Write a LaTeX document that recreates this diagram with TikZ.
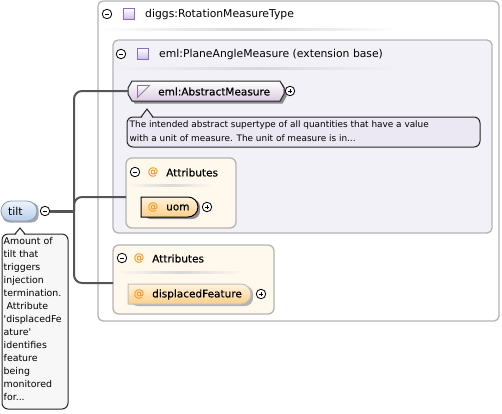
\documentclass[tikz,border=0pt]{standalone}
\usepackage{fontspec}
\setmainfont{DejaVu Sans}[Ligatures=TeXOff]
\newfontfamily\bfont[FakeBold=0.4,Ligatures=TeXOff]{DejaVu Sans}
\usetikzlibrary{shapes.misc}
\definecolor{conn}{HTML}{555555}
\definecolor{boxgray}{HTML}{B4B4B4}
\definecolor{lav}{HTML}{F3F1F8}
\definecolor{cream}{HTML}{FFF8ED}
\definecolor{atorange}{HTML}{F29B2A}
\definecolor{iconpurple}{HTML}{8A6BBE}
\definecolor{iconfill}{HTML}{C9BBE6}
\definecolor{absbot}{HTML}{DCCBE3}
\definecolor{desclav}{HTML}{ECE8F3}
\definecolor{uomtop}{HTML}{FFF3DC}
\definecolor{uombot}{HTML}{FCD08A}
\definecolor{tilttop}{HTML}{EEF4FC}
\definecolor{tiltbot}{HTML}{B7CDEC}
\definecolor{tiltborder}{HTML}{8A9CB8}
\definecolor{sepgray}{HTML}{D8D8D8}
\tikzset{
  T/.style={font=\fontsize{10.8}{12}\selectfont, inner sep=0, anchor=west},
  B/.style={font=\bfont\fontsize{10.5}{12}\selectfont, inner sep=0, anchor=west},
  D/.style={font=\fontsize{9.4}{13}\selectfont, inner sep=0, anchor=west},
  AT/.style={font=\bfont\fontsize{10.5}{12}\selectfont, inner sep=0, text=atorange},
  minusbtn/.style={circle, draw=black, line width=0.8pt, fill=white, minimum size=9.5pt, inner sep=0,
    path picture={\draw[line width=0.9pt] ([xshift=-2.4pt]path picture bounding box.center) -- ([xshift=2.4pt]path picture bounding box.center);}},
  plusbtn/.style={circle, draw=black, line width=0.8pt, fill=white, minimum size=9.5pt, inner sep=0,
    path picture={\draw[line width=0.9pt] ([xshift=-2.4pt]path picture bounding box.center) -- ([xshift=2.4pt]path picture bounding box.center)
      ([yshift=-2.4pt]path picture bounding box.center) -- ([yshift=2.4pt]path picture bounding box.center);}},
  typeicon/.style={rectangle, draw=iconpurple, line width=0.9pt, top color=white, bottom color=iconfill, minimum size=11pt, inner sep=0},
  container/.style={draw=boxgray, line width=1.3pt, rounded corners=5pt},
  attrbox/.style={draw=boxgray, line width=1.3pt, fill=cream, rounded corners=6pt},
  conn/.style={draw=conn, line width=2pt, rounded corners=8pt},
  attrnode/.style={rounded rectangle, rounded rectangle left arc=none, top color=uomtop, bottom color=uombot, inner sep=0, minimum height=20pt},
  shadowc/.style={fill=black!45},
}
\begin{document}
\begin{tikzpicture}[x=1pt,y=-1pt]
\useasboundingbox (0,0) rectangle (502,413);

% outer container
\draw[container, fill=white] (98,1) rectangle (499,321);
\node[minusbtn] (m0) at (107,14) {};
\node[typeicon] (i0) at (129,14) {};
\node[T] (h0) at (145,14.5) {diggs:RotationMeasureType};
\shade[left color=white, right color=white, middle color=sepgray] (100,28) rectangle (400,30);

% inner container
\draw[container, fill=lav] (113,40) rectangle (492,233);
\node[minusbtn] (m1) at (121,54) {};
\node[typeicon] (i1) at (143,54) {};
\node[T] (h1) at (159,54.5) {eml:PlaneAngleMeasure (extension base)};
\shade[left color=lav, right color=lav, middle color=sepgray] (115,67.5) rectangle (400,69.5);

% abstract measure element
\fill[shadowc] (130.5,90.5) -- (134.5,83.5) -- (282.5,83.5) -- (286.5,90.5) -- (286.5,96.5) -- (282.5,103.5) -- (134.5,103.5) -- (130.5,96.5) -- cycle;
\draw[line width=1pt, draw=black!85, top color=white, bottom color=absbot] (128,88) -- (132,81) -- (280,81) -- (284,88) -- (284,94) -- (280,101) -- (132,101) -- (128,94) -- cycle;
\node[minimum width=156pt, minimum height=20pt, inner sep=0] (abs) at (206,91) {};
\fill[top color=white, bottom color=iconfill] (137,85) -- (150,85) -- (137,98) -- cycle;
\draw[iconpurple, line width=0.9pt] (137,98) -- (137,85) -- (150,85);
\draw[black!45, line width=0.8pt] (137,98) -- (150,85);
\node[B] (absl) at (158,91.5) {eml:AbstractMeasure};
\node[plusbtn] (p1) at (290,91) {};

% description of abstract measure
\draw[line width=1pt, draw=black!85, fill=desclav, rounded corners=6pt] (127,117) rectangle (480,147);
\fill[desclav] (141.8,118) -- (147,110) -- (152.2,118) -- cycle;
\draw[line width=1pt, draw=black!85] (141,117) -- (147,109) -- (153,117);
\node[D, font=\fontsize{8.9}{13}\selectfont] (d1a) at (129.5,125.5) {The intended abstract supertype of all quantities that have a value};
\node[D, font=\fontsize{8.9}{13}\selectfont] (d1b) at (129.5,138.5) {with a unit of measure. The unit of measure is in...};

% attributes box 1
\draw[attrbox] (126,158) rectangle (236,228);
\node[minimum width=110pt, minimum height=70pt, inner sep=0] (attr1) at (181,193) {};
\node[minusbtn] (m2) at (135,172) {};
\node[AT] (at2) at (153,172) {@};
\node[B] (a1l) at (166,172.5) {Attributes};
\shade[left color=cream, right color=cream, middle color=sepgray] (128,184.5) rectangle (212,186.5);
\fill[black!45, rounded corners=8pt] (143,199) rectangle (200,219);
\node[attrnode, draw=black, line width=1pt, minimum width=57pt] (uom) at (169.5,207) {};
\node[AT] (at3) at (153,207) {@};
\node[B] (uoml) at (166,207.5) {uom};
\node[plusbtn] (p2) at (207,207) {};

% attributes box 2
\draw[attrbox] (113,245) rectangle (274,314);
\node[minimum width=161pt, minimum height=69pt, inner sep=0] (attr2) at (193.5,279.5) {};
\node[minusbtn] (m3) at (122,258) {};
\node[AT] (at4) at (139,258) {@};
\node[B] (a2l) at (152,258.5) {Attributes};
\shade[left color=cream, right color=cream, middle color=sepgray] (115,271) rectangle (245,273);
\fill[black!30, rounded corners=8pt] (130,286) rectangle (253,306);
\node[attrnode, draw=black!25, line width=1pt, minimum width=123pt] (disp) at (189.5,294) {};
\node[AT] (at5) at (139,294) {@};
\node[B] (displ) at (152,294.5) {displacedFeature};
\node[plusbtn] (p3) at (261,294) {};

% tilt
\fill[black!35, rounded corners=7pt] (2.5,202.5) rectangle (38.5,222.5);
\node[rounded rectangle, draw=tiltborder, line width=0.8pt, top color=tilttop, bottom color=tiltbot, minimum width=36pt, minimum height=20pt, inner sep=0] (tilt) at (19,211) {};
\node[T] (tiltl) at (8,211.5) {tilt};
\node[minusbtn] (m4) at (45,211) {};

% tilt description
\draw[line width=1pt, draw=black!85, fill=black!3, rounded corners=6pt] (2,234) rectangle (68,409);
\fill[black!3] (15.8,235) -- (20,229) -- (24.2,235) -- cycle;
\draw[line width=1pt, draw=black!85] (15,234) -- (20,228) -- (25,234);
\node[D, align=left, anchor=north west] (tiltd) at (3.5,237) {Amount of\\tilt that\\triggers\\injection\\termination.\\\ Attribute\\'displacedFe\\ature'\\identifies\\feature\\being\\monitored\\for...};

% connectors
\coordinate (j) at (74,211);
\coordinate (a1in) at (126,197);
\coordinate (a2in) at (113,283);
\draw[draw=conn, line width=3pt] (m4.east) -- (j);
\draw[conn] (j) |- (abs.west);
\draw[conn] (j) |- (a1in);
\draw[conn] (j) |- (a2in);
\end{tikzpicture}
\end{document}
